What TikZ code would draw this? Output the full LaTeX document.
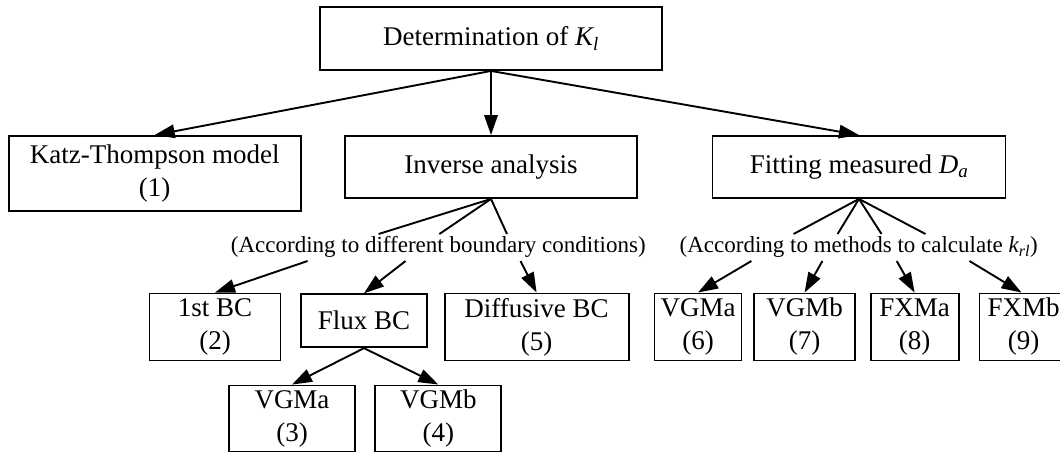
\documentclass[tikz,border=0pt]{standalone}
\usepackage{fontspec}
\setmainfont{Liberation Serif}
\usetikzlibrary{arrows.meta}
\begin{document}
\begin{tikzpicture}[x=1pt,y=-1pt,
 box/.style={draw, line width=1.9pt, rectangle, inner sep=0pt, align=center, font=\fontsize{27}{33}\selectfont},
 lbl/.style={inner sep=0pt, font=\fontsize{23}{28}\selectfont},
 conn/.style={line width=1.9pt},
 arr/.style={conn, -{Triangle[length=20pt,width=13.5pt]}}]
\useasboundingbox (0,0) rectangle (1060,452);
% level 0
\node[box, minimum width=342pt, minimum height=63pt] (top) at (491,38.5) {Determination of \textit{K\textsubscript{l}}};
% level 1
\node[box, minimum width=292pt, minimum height=75pt] (katz) at (154.7,173.5) {Katz-Thompson model\\(1)};
\node[box, minimum width=292pt, minimum height=62pt] (inv) at (491,167) {Inverse analysis};
\node[box, minimum width=293pt, minimum height=62pt] (fit) at (859,167) {Fitting measured \textit{D\textsubscript{a}}};
% labels
\node[lbl] (lab1) at (438.3,247) {(According to different boundary conditions)};
\node[lbl] (lab2) at (858.7,247) {(According to methods to calculate \textit{k\textsubscript{rl}})};
% level 2
\node[box, minimum width=131pt, minimum height=67pt] (bc1) at (215,327) {1st BC\\(2)};
\node[box, minimum width=126pt, minimum height=53pt] (flux) at (364,320.7) {Flux BC};
\node[box, minimum width=184pt, minimum height=67pt] (diff) at (536.6,327) {Diffusive BC\\(5)};
\node[box, minimum width=87pt, minimum height=67pt] (v6) at (698,327) {VGMa\\(6)};
\node[box, minimum width=101pt, minimum height=67pt] (v7) at (804.6,327) {VGMb\\(7)};
\node[box, minimum width=88pt, minimum height=67pt] (f8) at (914.6,327) {FXMa\\(8)};
\node[box, minimum width=88pt, minimum height=67pt] (f9) at (1023.5,327) {FXMb\\(9)};
% level 3
\node[box, minimum width=126pt, minimum height=66pt] (v3) at (292,418.5) {VGMa\\(3)};
\node[box, minimum width=126pt, minimum height=66pt] (v4) at (438.3,418.5) {VGMb\\(4)};
% pass-through points
\coordinate (a1) at (378.6,234); \coordinate (a2) at (439.4,234); \coordinate (a3) at (507,234);
\coordinate (b1) at (307.6,261); \coordinate (b2) at (405.6,261); \coordinate (b3) at (520.5,261);
\coordinate (c1) at (793.6,234); \coordinate (c2) at (837.6,234); \coordinate (c3) at (881.5,234); \coordinate (c4) at (925.5,234);
\coordinate (d1) at (751.4,261); \coordinate (d2) at (822.4,261); \coordinate (d3) at (896.7,261); \coordinate (d4) at (969.4,261);
% connectors from top
\draw[arr] (top.south) -- (katz.north);
\draw[arr] (top.south) -- (inv.north);
\draw[arr] (top.south) -- (fit.north);
% inverse analysis
\draw[conn] (inv.south) -- (a1);
\draw[conn] (inv.south) -- (a2);
\draw[conn] (inv.south) -- (a3);
\draw[arr] (b1) -- (bc1.north);
\draw[arr] (b2) -- (flux.north);
\draw[arr] (b3) -- (diff.north);
% fitting
\draw[conn] (fit.south) -- (c1);
\draw[conn] (fit.south) -- (c2);
\draw[conn] (fit.south) -- (c3);
\draw[conn] (fit.south) -- (c4);
\draw[arr] (d1) -- (v6.north);
\draw[arr] (d2) -- (v7.north);
\draw[arr] (d3) -- (f8.north);
\draw[arr] (d4) -- ([xshift=-2pt]f9.north);
% flux
\draw[arr] (flux.south) -- (v3.north);
\draw[arr] (flux.south) -- (v4.north);
\end{tikzpicture}
\end{document}
